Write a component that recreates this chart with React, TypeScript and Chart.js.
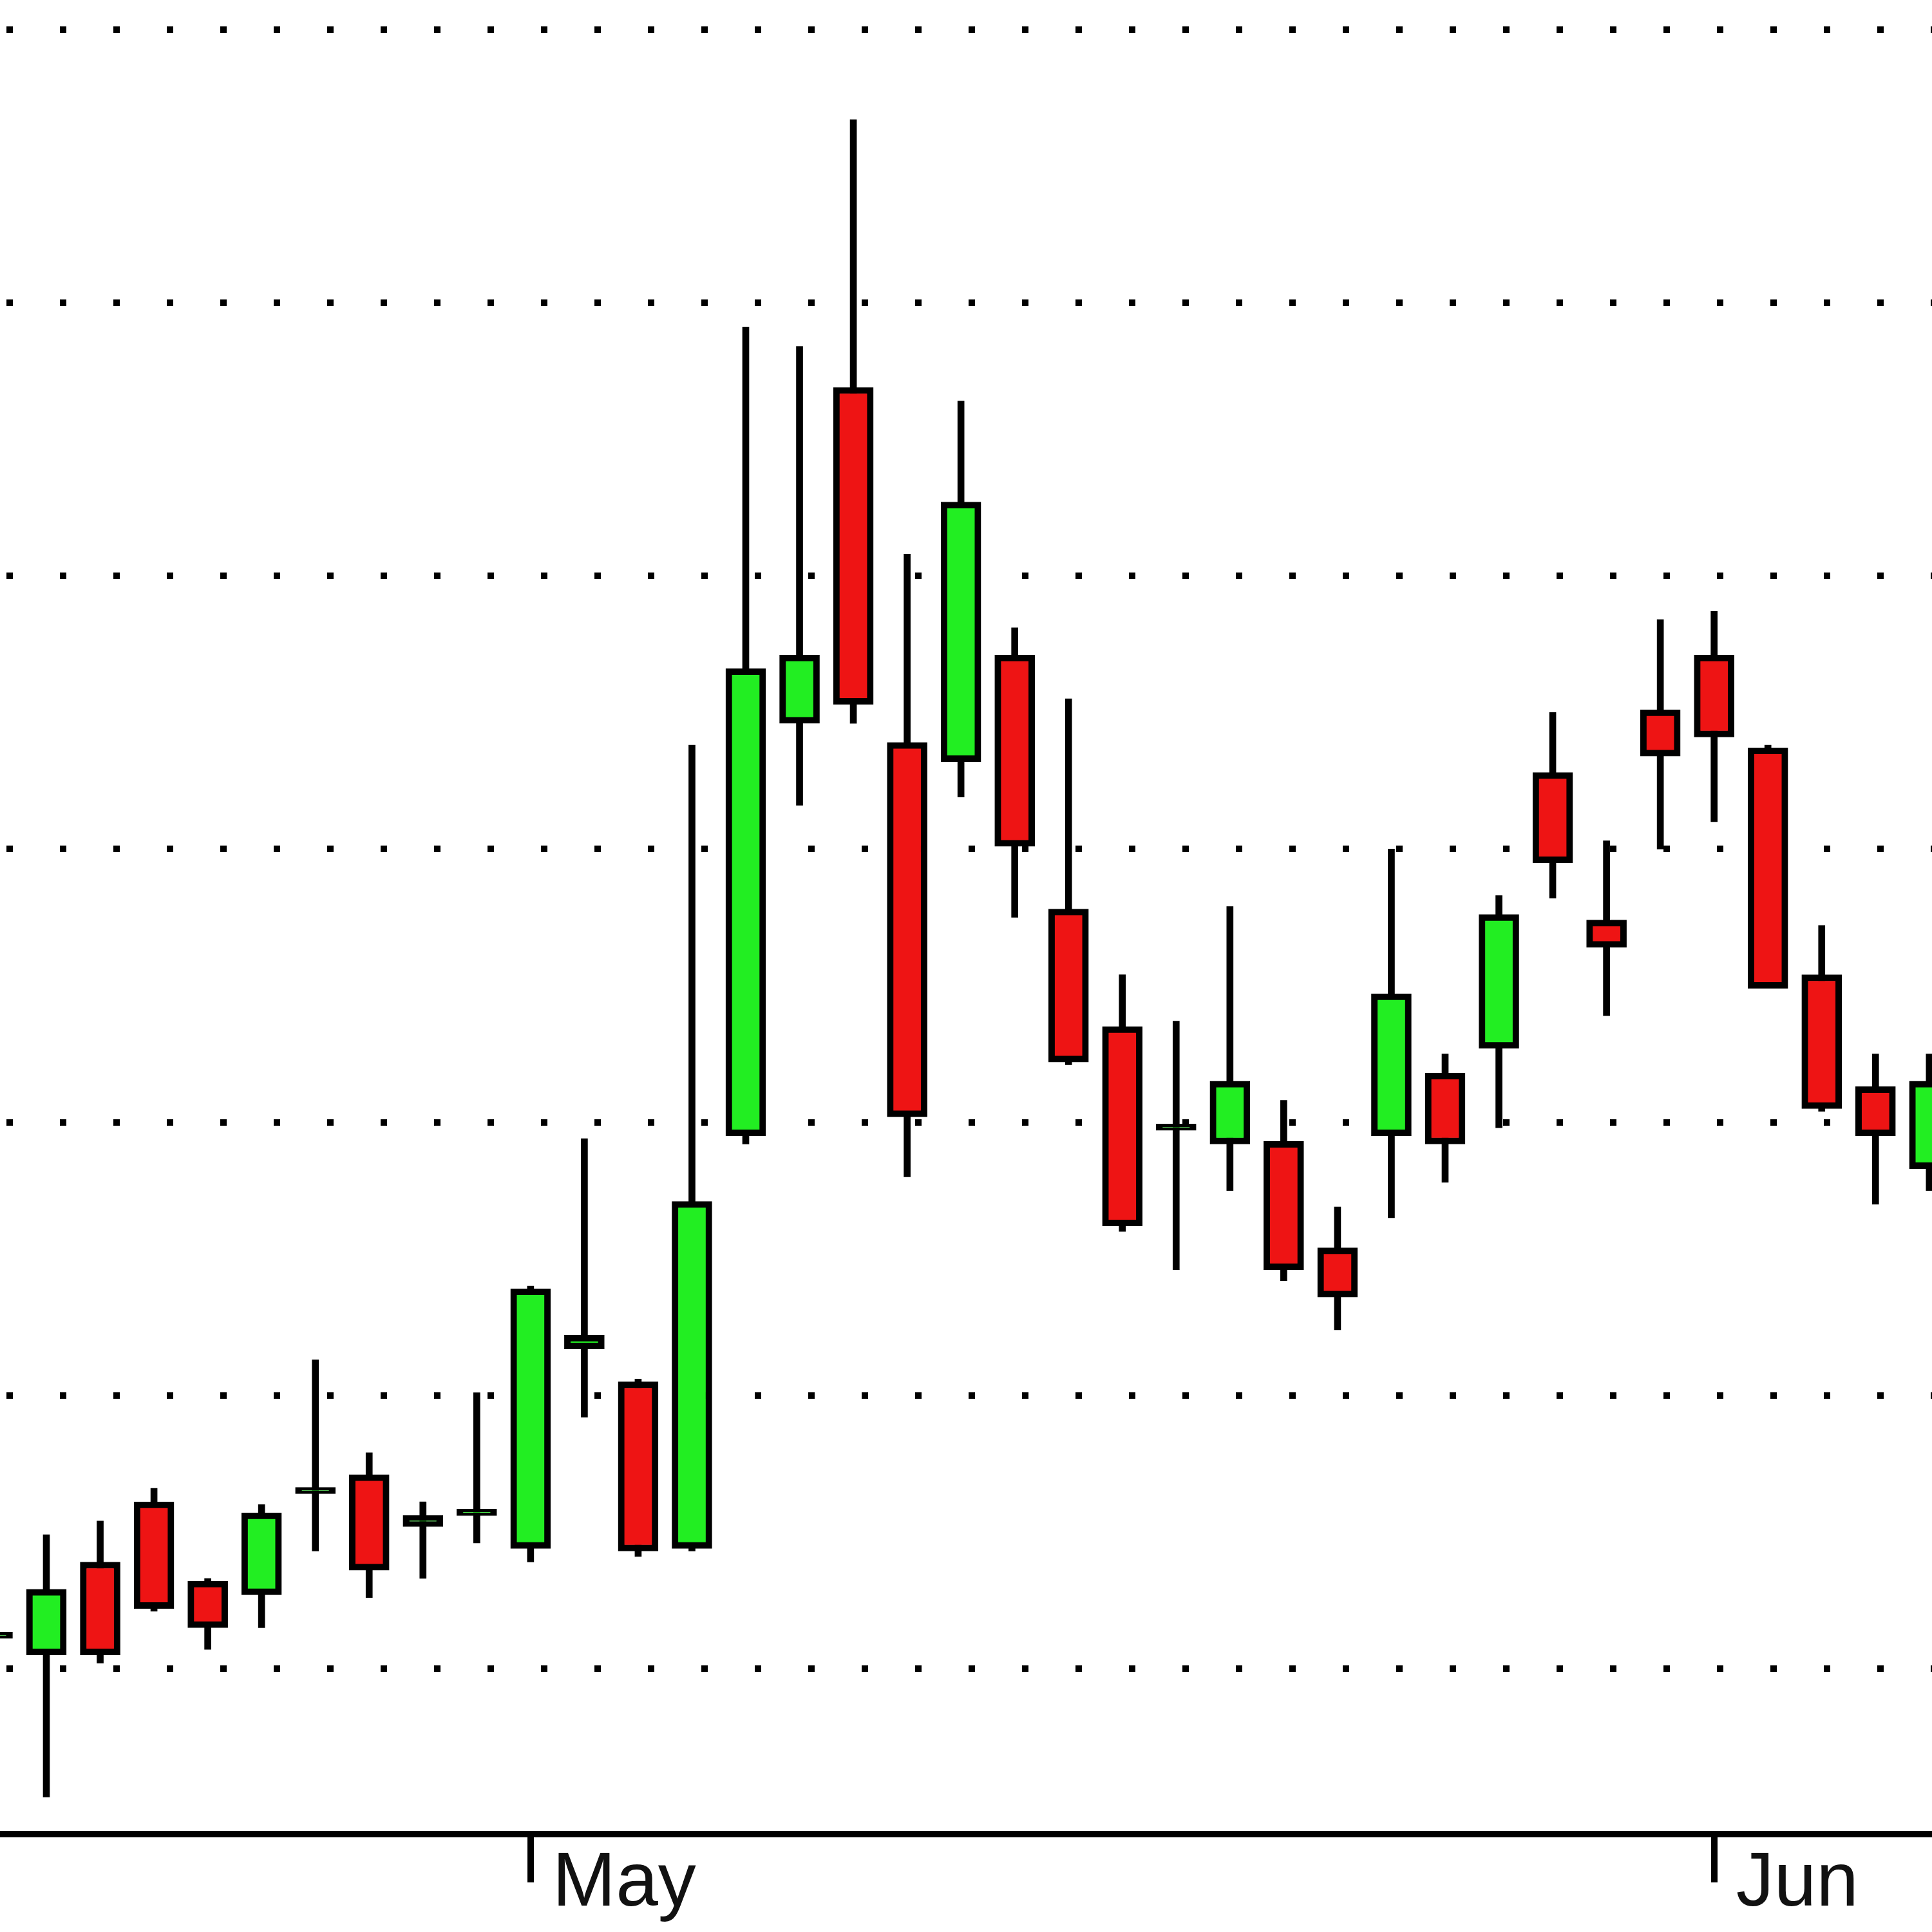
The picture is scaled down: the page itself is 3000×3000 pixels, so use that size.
import { useEffect, useRef } from 'react';
import { Chart, registerables } from 'chart.js';

Chart.register(...registerables);

// Trading days (one candle each)
const dates = [
  '2012-04-17', '2012-04-18', '2012-04-19', '2012-04-20', '2012-04-23', '2012-04-24',
  '2012-04-25', '2012-04-26', '2012-04-27', '2012-04-30', '2012-05-01', '2012-05-02',
  '2012-05-03', '2012-05-04', '2012-05-07', '2012-05-08', '2012-05-09', '2012-05-10',
  '2012-05-11', '2012-05-14', '2012-05-15', '2012-05-16', '2012-05-17', '2012-05-18',
  '2012-05-21', '2012-05-22', '2012-05-23', '2012-05-24', '2012-05-25', '2012-05-29',
  '2012-05-30', '2012-05-31', '2012-06-01', '2012-06-04', '2012-06-05', '2012-06-06',
  '2012-06-07',
];

const opens = [
  20.11, 20.05, 20.39, 20.61, 20.32, 20.27, 20.64, 20.71, 20.52, 20.56, 20.44, 21.17,
  21.05, 20.44, 21.95, 23.46, 24.69, 23.39, 23.32, 23.71, 22.78, 22.35, 21.97, 21.92,
  21.93, 21.54, 21.95, 22.18, 22.27, 23.28, 22.74, 23.51, 23.71, 23.37, 22.54, 22.13,
  21.83,
];
const highs = [
  20.3, 20.49, 20.54, 20.66, 20.33, 20.6, 21.13, 20.79, 20.61, 21.01, 21.4, 21.94,
  21.06, 23.38, 24.91, 24.84, 25.67, 24.08, 24.64, 23.81, 23.55, 22.54, 22.37, 22.79,
  22.08, 21.69, 23.0, 22.25, 22.83, 23.5, 23.03, 23.84, 23.87, 23.38, 22.72, 22.25,
  22.25,
];
const lows = [
  19.95, 19.53, 20.02, 20.21, 20.07, 20.15, 20.43, 20.26, 20.33, 20.46, 20.39, 20.92,
  20.41, 20.43, 21.92, 23.16, 23.46, 21.8, 23.19, 22.75, 22.21, 21.6, 21.46, 21.75,
  21.42, 21.24, 21.65, 21.78, 21.98, 22.82, 22.39, 23.0, 23.1, 22.49, 22.04, 21.7,
  21.75,
];
const closes = [
  20.11, 20.29, 20.05, 20.22, 20.15, 20.57, 20.64, 20.36, 20.56, 20.56, 21.39, 21.22,
  20.43, 21.71, 23.66, 23.71, 23.53, 22.02, 24.27, 23.01, 22.22, 21.62, 21.97, 22.15,
  21.46, 21.36, 22.47, 21.92, 22.76, 22.95, 22.64, 23.34, 23.41, 22.49, 22.05, 21.95,
  22.15,
];

const monthNames = ['Jan', 'Feb', 'Mar', 'Apr', 'May', 'Jun', 'Jul', 'Aug', 'Sep', 'Oct', 'Nov', 'Dec'];
const gridValues = [20, 21, 22, 23, 24, 25, 26];

const UP = '#22ee22';
const DOWN = '#ee1414';

export default function App() {
  const ref = useRef<HTMLCanvasElement>(null);

  useEffect(() => {
    const monthTicks: number[] = [];
    dates.forEach((d, i) => {
      if (i > 0 && d.slice(5, 7) !== dates[i - 1].slice(5, 7)) monthTicks.push(i);
    });
    const monthLabels = monthTicks.map((i) => monthNames[parseInt(dates[i].slice(5, 7), 10) - 1]);

    const bodyColors = dates.map((_, i) => (closes[i] >= opens[i] ? UP : DOWN));

    const chart = new Chart(ref.current as HTMLCanvasElement, {
      type: 'bar',
      data: {
        datasets: [
          {
            label: 'body',
            data: dates.map((_, i) => ({ x: i, y: [opens[i], closes[i]] })) as any,
            backgroundColor: bodyColors,
            borderColor: '#000',
            borderWidth: 10,
            borderSkipped: false,
            barThickness: 62,
            minBarLength: 10,
            grouped: false,
            order: 0,
          } as any,
          {
            label: 'wick',
            data: dates.map((_, i) => ({ x: i, y: [lows[i], highs[i]] })) as any,
            backgroundColor: '#000',
            borderWidth: 0,
            barThickness: 10,
            grouped: false,
            order: 1,
          } as any,
        ],
      },
      options: {
        animation: false,
        responsive: false,
        devicePixelRatio: 1,
        layout: { padding: 0 },
        plugins: { legend: { display: false }, tooltip: { enabled: false } },
        scales: {
          x: {
            type: 'linear',
            position: 'bottom',
            offset: false,
            min: 0.138,
            max: 36.05,
            afterBuildTicks: (s: any) => {
              s.ticks = monthTicks.map((v) => ({ value: v }));
            },
            afterFit: (s: any) => {
              s.height = 152;
            },
            grid: {
              offset: false,
              drawOnChartArea: false,
              drawTicks: true,
              tickLength: 75,
              color: '#000',
              lineWidth: 10,
            },
            border: { display: true, color: '#000', width: 10 },
            ticks: {
              autoSkip: false,
              maxRotation: 0,
              align: 'start',
              labelOffset: 34,
              padding: -67,
              color: '#111',
              font: { family: '"Liberation Sans", Arial, sans-serif', size: 118 },
              callback: (_v: any, idx: number) => monthLabels[idx],
            },
          } as any,
          y: {
            type: 'linear',
            min: 19.394,
            max: 26.108,
            afterBuildTicks: (s: any) => {
              s.ticks = gridValues.map((v) => ({ value: v }));
            },
            afterFit: (s: any) => {
              s.width = 0;
            },
            ticks: { display: false },
            grid: { color: '#000', lineWidth: 10, drawTicks: false },
            border: { display: false, dash: [10, 73], dashOffset: 73 },
          } as any,
        },
      },
    });
    return () => chart.destroy();
  }, []);

  return (
    <canvas
      ref={ref}
      width={3000}
      height={3000}
      style={{ position: 'absolute', left: 0, top: 0, width: 3000, height: 3000, background: '#fff' }}
    />
  );
}
